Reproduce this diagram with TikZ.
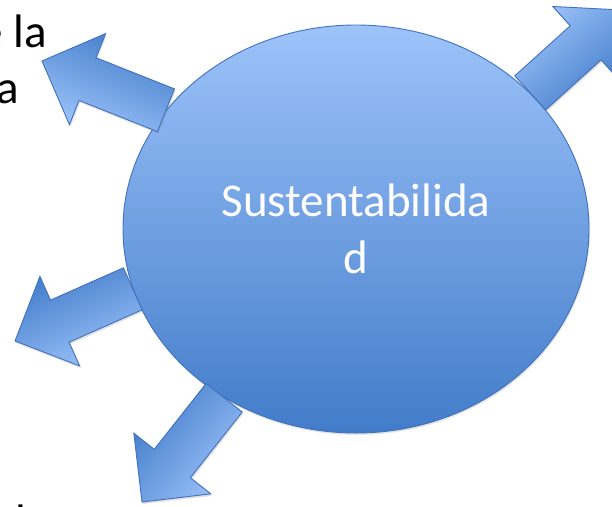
\documentclass[tikz,border=0pt]{standalone}
\usepackage{fontspec}
\setmainfont{Carlito}
\usetikzlibrary{calc,shapes.geometric,shadows,positioning}

\definecolor{blobtop}{RGB}{157,195,250}
\definecolor{blobbot}{RGB}{66,124,201}
\definecolor{blobline}{RGB}{65,113,190}

\newcommand{\blkarrow}[4]{%
  \coordinate (#1t) at (#2);
  \coordinate (#1n) at ($(#3)!49pt!(#1t)$);
  \path[blk,shading angle=#4]
    ($(#1t)!23pt!90:(#3)$) -- ($(#1n)!23pt!90:(#3)$) -- ($(#1n)!49pt!90:(#3)$)
    -- (#3) -- ($(#1n)!49pt!-90:(#3)$) -- ($(#1n)!23pt!-90:(#3)$)
    -- ($(#1t)!23pt!-90:(#3)$) -- cycle;}

\begin{document}
\begin{tikzpicture}[x=1pt,y=-1pt,
    blob/.style={ellipse,minimum width=466pt,minimum height=408pt,inner sep=0pt,
      draw=blobline,line width=0.9pt,top color=blobtop,bottom color=blobbot,
      text=white,align=center,font=\fontsize{47}{57}\selectfont,
      drop shadow={opacity=0.2,shadow xshift=1pt,shadow yshift=-2pt}},
    blk/.style={draw=blobline,line width=0.9pt,top color=blobtop,bottom color=blobbot,
      drop shadow={opacity=0.25,shadow xshift=1pt,shadow yshift=-2pt}},
    lbl/.style={inner sep=0pt,font=\fontsize{47}{57}\selectfont}]
   \useasboundingbox (0,0) rectangle (612,506);
   \clip (0,0) rectangle (612,506);
   \node[lbl,anchor=base east] (lbl1) at (47,47) {e la};
   \node[lbl,anchor=base east] (lbl2) at (19,103) {a};
   \node[lbl,anchor=base west] (lbl3) at (15,537) {l};
   \node[blob] (sus) at (356,229) {Sustentabilida\\d};
   \coordinate (tip1) at (42,61);
   \coordinate (tip2) at (622,10);
   \coordinate (tip3) at (15,341);
   \coordinate (tip4) at (142,502);
   \blkarrow{a1}{sus.148.7}{tip1}{157.6}
   \blkarrow{a2}{sus.38.7}{tip2}{40.8}
   \blkarrow{a3}{sus.195.2}{tip3}{203.7}
   \blkarrow{a4}{sus.232.9}{tip4}{230}
\end{tikzpicture}
\end{document}
